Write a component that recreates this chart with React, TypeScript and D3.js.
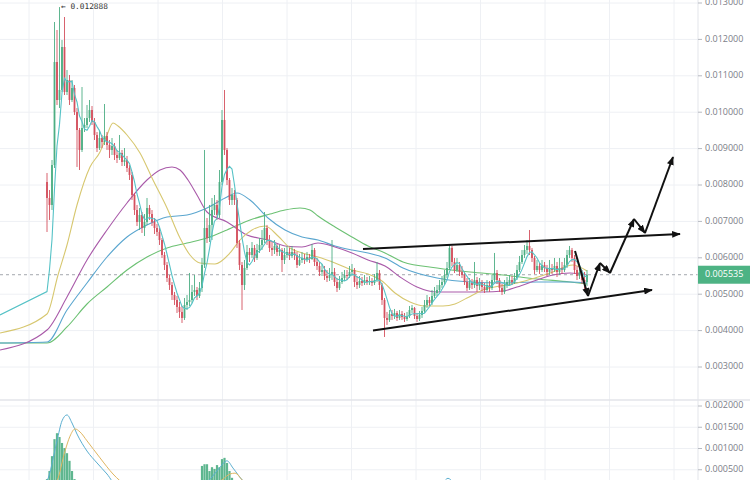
import React from "react";
import * as d3 from "d3";

// All prices are stored in millionths (1 = 0.000001).
const firstOpen = 8082;

const closes = [
  7643, 7451, 8550, 11379, 10335, 10610, 11791, 10555, 10884, 10335,
  10665, 10005, 9511, 8962, 9566, 9648, 9840, 10060, 9731, 9374,
  9016, 9291, 9181, 9346, 9099, 8962, 9071, 8824, 8742, 8879,
  8632, 8687, 8467, 8275, 7725, 7313, 6984, 7176, 6819, 6984,
  7368, 7203, 6984, 6819, 6709, 6489, 6077, 5803, 5445, 5253,
  4978, 4841, 4649, 4512, 4347, 4704, 4786, 4841, 5061, 5116,
  4951, 5171, 5803, 6819, 6544, 6902, 7313, 7451, 7176, 8082,
  9786, 8962, 8137, 7588, 7725, 7588, 6407, 5803, 5253, 5720,
  6160, 6077, 6270, 5995, 6215, 6352, 6489, 6819, 6489, 6270,
  6215, 6325, 6160, 6215, 5940, 6077, 6160, 6050, 6160, 6077,
  5803, 5940, 5995, 5940, 6022, 5967, 6215, 5885, 5775, 5610,
  5665, 5500, 5445, 5528, 5610, 5335, 5171, 5335, 5445, 5528,
  5500, 5610, 5665, 5335, 5253, 5363, 5308, 5390, 5335, 5363,
  5308, 5390, 5583, 5253, 4841, 4347, 4292, 4457, 4402, 4484,
  4347, 4457, 4374, 4319, 4402, 4566, 4621, 4402, 4319, 4429,
  4539, 4704, 4841, 4759, 4951, 5033, 5116, 5253, 5335, 5528,
  5720, 6270, 5885, 5665, 5803, 5610, 5528, 5335, 5171, 5308,
  5253, 5390, 5226, 5308, 5198, 5116, 5253, 5171, 5390, 5583,
  5390, 5171, 5061, 5253, 5335, 5390, 5335, 5445, 5665, 5885,
  6077, 6215, 6325, 6215, 5995, 5665, 5775, 5665, 5803, 5720,
  5610, 5720, 5665, 5775, 5610, 5720, 5665, 5803, 6077, 6215,
  5995, 5665, 5500, 5610, 5390, 5335, 5535,
];

const highs = [
  8330, 7863, 8687, 12478, 12258, 12888, 11983, 12615, 11159, 11022,
  10884, 10747, 10115, 9566, 10692, 9840, 10198, 10335, 10170, 9840,
  9456, 9511, 9374, 10225, 9456, 9236, 9291, 9154, 8962, 9374,
  8962, 9016, 8797, 8550, 8357, 7780, 7451, 7368, 7258, 7203,
  7643, 7451, 7313, 7094, 6929, 6819, 6544, 6160, 5885, 5528,
  5335, 5061, 4951, 4786, 4676, 4896, 4978, 5583, 5253, 5528,
  5198, 5335, 5995, 8962, 7094, 7451, 7643, 7725, 7588, 8412,
  10060, 10610, 9016, 8192, 7917, 7863, 7643, 6489, 5885, 5940,
  6352, 6270, 6434, 6352, 6380, 6544, 6764, 7258, 6902, 6627,
  6434, 6489, 6380, 6352, 6270, 6270, 6325, 6270, 6325, 6242,
  6160, 6105, 6160, 6105, 6160, 6105, 6380, 6270, 5995, 5885,
  5830, 5775, 5665, 5720, 6489, 5720, 5445, 5500, 5610, 5665,
  5665, 5775, 5830, 5720, 5500, 5500, 5473, 5528, 5473, 5500,
  5445, 5555, 5885, 5665, 5308, 4896, 4512, 4566, 4566, 4594,
  4539, 4566, 4539, 4484, 4512, 4676, 4704, 4649, 4484, 4539,
  4649, 4841, 4978, 4923, 5116, 5198, 5253, 5390, 5500, 5665,
  5885, 6352, 6325, 5995, 5995, 5885, 5775, 5610, 5445, 5445,
  5418, 5885, 5473, 5445, 5390, 5308, 5390, 5363, 5528, 6133,
  5665, 5445, 5280, 5390, 5473, 5528, 5500, 5583, 5803, 6050,
  6215, 6352, 6489, 6764, 6270, 6050, 5940, 5858, 5940, 5885,
  5803, 5940, 5830, 5995, 5885, 5995, 5885, 5995, 6215, 6325,
  6270, 6077, 5775, 5720, 5665, 5610, 5665,
];

const lows = [
  6709, 7039, 7313, 8467, 10198, 10115, 10555, 10472, 10472, 10198,
  10280, 9923, 8495, 8412, 8907, 9456, 9566, 9731, 9648, 9236,
  8907, 8962, 9016, 9099, 8962, 8742, 8824, 8687, 8604, 8687,
  8522, 8522, 8357, 8137, 7588, 7176, 6874, 6764, 6682, 6599,
  6902, 7039, 6874, 6654, 6599, 6352, 5995, 5665, 5335, 5116,
  4841, 4704, 4484, 4347, 4210, 4292, 4566, 4676, 4759, 4951,
  4841, 4896, 5061, 5720, 6407, 6434, 6489, 7176, 7039, 7094,
  7999, 8824, 7999, 7451, 7451, 7451, 6270, 5665, 4566, 5116,
  5665, 5885, 5995, 5885, 5940, 6133, 6215, 6407, 6352, 6160,
  6050, 6105, 6050, 6050, 5610, 5830, 5995, 5940, 5995, 5940,
  5720, 5775, 5858, 5830, 5885, 5858, 5940, 5775, 5665, 5500,
  5500, 5390, 5335, 5363, 5390, 5226, 5061, 5116, 5280, 5363,
  5390, 5445, 5500, 5198, 5143, 5171, 5226, 5253, 5253, 5253,
  5226, 5253, 5335, 5116, 4704, 3825, 4155, 4237, 4292, 4319,
  4264, 4292, 4292, 4237, 4264, 4347, 4484, 4319, 4237, 4264,
  4347, 4484, 4621, 4676, 4704, 4896, 4951, 5061, 5171, 5253,
  5445, 5665, 5775, 5583, 5610, 5500, 5445, 5253, 5088, 5116,
  5143, 5171, 5061, 5116, 5088, 5033, 5061, 5061, 5116, 5335,
  5280, 5061, 4978, 5006, 5171, 5253, 5253, 5280, 5390, 5610,
  5830, 5995, 6105, 6077, 5885, 5555, 5610, 5555, 5610, 5610,
  5500, 5528, 5555, 5610, 5473, 5528, 5555, 5610, 5720, 5995,
  5885, 5555, 5390, 5418, 5280, 5116, 5226,
];

// Closes at the listing level before trading opened (feeds the fast average).
const preListingCloses = [4430, 4430, 4430, 4430];
const preListingStartBar = -18.8;
const fastPeriod = 5;

const lastPrice = 5535;
const peakPrice = 12888;
const peakBar = 5;

// Slower moving averages, [bar, price].
const maYellow: [number, number][] = [
  [-18.8, 3934], [0, 4457], [4.4, 5528], [8, 6352], [12, 7451], [17.2, 8495],
  [21.2, 8907], [24, 9374], [26.4, 9703], [28.4, 9621], [32, 9374], [37.2, 8879],
  [42.4, 8137], [48, 7368], [53.2, 6544], [57.2, 6077], [61.2, 5858], [67.2, 5830],
  [73.2, 6133], [77.2, 6489], [82, 6764], [87.2, 6874], [92.4, 6599], [97.2, 6270],
  [102, 6133], [108.4, 6022], [115.2, 5858], [122, 5665], [128.4, 5555], [134, 5363],
  [139.2, 5033], [145.2, 4786], [151.2, 4676], [158.4, 4676], [163.2, 4731], [168, 4896],
  [174.4, 5116], [181.2, 5226], [188, 5308], [195.2, 5445], [201.2, 5583], [210.4, 5803],
  [216, 5638],
];

const maPurple: [number, number][] = [
  [-18.8, 3467], [0, 4017], [8, 4924], [16, 5940], [24, 6764], [32, 7506],
  [40, 8137], [45.2, 8412], [50, 8495], [53.2, 8412], [56.4, 8137], [60, 7725],
  [64, 7258], [72, 6984], [80, 6627], [88.4, 6489], [95.2, 6325], [102, 6297],
  [108.4, 6407], [115.2, 6297], [122, 6133], [128.4, 5940], [135.2, 5775], [141.2, 5473],
  [148, 5198], [156, 5061], [166.4, 5061], [174.4, 5061], [182.4, 5088], [188, 5198],
  [196, 5390], [202.4, 5528], [209.2, 5583], [216, 5528],
];

const maBlue: [number, number][] = [
  [-18.8, 3660], [0, 3687], [8, 4566], [16, 5308], [24, 6022], [32, 6572],
  [40, 6902], [48, 7121], [56, 7176], [64, 7368], [72, 7670], [76, 7780],
  [81.2, 7588], [88.4, 7094], [95.2, 6764], [102, 6572], [108.4, 6489], [115.2, 6325],
  [122, 6215], [128.4, 6133], [135.2, 5995], [142.4, 5720], [156, 5445], [169.2, 5335],
  [182.4, 5308], [196, 5335], [209.2, 5335], [216, 5308],
];

const maGreen: [number, number][] = [
  [-18.8, 3660], [0, 3660], [8, 4100], [16, 4731], [24, 5198], [32, 5665],
  [40, 6022], [48, 6270], [56, 6407], [64, 6544], [72, 6764], [81.2, 7039],
  [89.2, 7203], [95.2, 7313], [101.2, 7368], [105.2, 7313], [108.4, 7148], [115.2, 6846],
  [122, 6572], [128.4, 6325], [135.2, 6133], [142.4, 5885], [156, 5720], [169.2, 5610],
  [182.4, 5528], [196, 5418], [209.2, 5335], [216, 5280],
];

// Lower pane: histogram and its two signal lines, [bar, value].
const oscBars: [number, number][] = [
  [0, 280], [1, 470], [2, 820], [3, 1220], [4, 1360], [5, 1270], [6, 1130],
  [7, 1010], [8, 890], [9, 710], [10, 470], [11, 280],
  [62, 590], [63, 630], [64, 630], [65, 470], [66, 560], [67, 520], [68, 610],
  [69, 560], [70, 750], [71, 780], [72, 660], [73, 470], [74, 310],
];

const oscFast: [number, number][] = [
  [-2.8, 100], [0, 240], [4, 1180], [6, 1650], [8, 1790], [10, 1600], [12, 1340],
  [16, 940], [20, 660], [24, 400], [28, 120], [41.2, 50], [61.2, 80], [66, 330],
  [69.2, 560], [72, 710], [74.4, 540], [78.4, 240], [83.2, 60], [153.2, 60],
  [158.4, 200], [160.4, 300], [162.8, 180], [167.2, 60], [216, 60],
];

const oscSlow: [number, number][] = [
  [1.2, 80], [4, 240], [7.2, 940], [9.2, 1290], [11.2, 1460], [13.2, 1390],
  [16, 1180], [21.2, 780], [26.4, 400], [29.2, 240], [35.2, 60], [65.2, 60],
  [70.4, 280], [73.2, 400], [75.2, 420], [78.4, 240], [83.2, 60], [216, 60],
];

// Drawn pattern: rising channel and projected breakout path, [bar, price].
const channelTop: [number, number][] = [[126.4, 6242], [253.2, 6654]];
const channelBottom: [number, number][] = [[130.4, 4003], [242, 5116]];
const projection: [number, number][] = [
  [211.2, 6187], [216.4, 4951], [221.2, 5858], [225.2, 5583],
  [234.8, 7066], [239.2, 6682], [250.4, 8769],
];

const priceTicks = [13000, 12000, 11000, 10000, 9000, 8000, 7000, 6000, 5000, 4000, 3000];
const oscTicks = [2000, 1500, 1000, 500];
const timeGridBars = [-7.2, 18.6, 44.4, 70.2, 96, 121.8, 147.6, 173.4, 199.2, 225, 250.8];

const UP = "#4dae83";
const DOWN = "#d4505e";
const fmt = (v: number) => (v / 1e6).toFixed(6);

export default function App() {
  const W = 750;
  const H = 480;
  const axisX = 698;
  const paneSplit = 400;

  const x = d3.scaleLinear().domain([0, closes.length - 1]).range([47, 587]);
  const y = d3.scaleLinear().domain([3000, 13000]).range([367, 3]);
  const yOsc = d3.scaleLinear().domain([0, 2000]).range([491, 406]);

  const candles = closes.map((c, i) => {
    const o = i === 0 ? firstOpen : closes[i - 1];
    return {
      i,
      o,
      c,
      h: Math.max(highs[i], o, c),
      l: Math.min(lows[i], o, c),
    };
  });

  // Fast simple moving average over the closes.
  const series = [...preListingCloses, ...closes];
  const fastMa: [number, number][] = [[preListingStartBar, preListingCloses[0]]];
  for (let i = 0; i < closes.length; i++) {
    const end = i + preListingCloses.length;
    const win = series.slice(Math.max(0, end - fastPeriod + 1), end + 1);
    fastMa.push([i, d3.mean(win) as number]);
  }

  const priceLine = d3
    .line<[number, number]>()
    .x((d) => x(d[0]))
    .y((d) => y(d[1]))
    .curve(d3.curveMonotoneX);
  const straightLine = d3
    .line<[number, number]>()
    .x((d) => x(d[0]))
    .y((d) => y(d[1]));
  const oscLine = d3
    .line<[number, number]>()
    .x((d) => x(d[0]))
    .y((d) => yOsc(d[1]))
    .curve(d3.curveMonotoneX);

  const bodyW = 1.8;
  const gridColor = "#eef0f4";
  const labelFont = "'Open Sans', 'DejaVu Sans', sans-serif";

  const segs: [[number, number], [number, number]][] = [];
  for (let k = 1; k < projection.length; k++) segs.push([projection[k - 1], projection[k]]);

  return (
    <svg
      width={W}
      height={H}
      viewBox={`0 0 ${W} ${H}`}
      style={{ position: "absolute", left: 0, top: 0, background: "#fff" }}
    >
      <defs>
        <clipPath id="mainPane">
          <rect x={0} y={0} width={axisX} height={paneSplit} />
        </clipPath>
        <clipPath id="oscPane">
          <rect x={0} y={paneSplit + 1} width={axisX} height={H - paneSplit - 1} />
        </clipPath>
        <marker
          id="head"
          viewBox="0 0 10 8"
          refX={9}
          refY={4}
          markerWidth={9}
          markerHeight={7}
          markerUnits="userSpaceOnUse"
          orient="auto"
        >
          <path d="M0,0 L10,4 L0,8 z" fill="#111" />
        </marker>
      </defs>

      <rect x={0} y={0} width={W} height={H} fill="#fff" />

      {/* grid */}
      {timeGridBars.map((b) => (
        <line key={`v${b}`} x1={x(b)} x2={x(b)} y1={0} y2={H} stroke={gridColor} strokeWidth={1} />
      ))}
      {priceTicks.map((t) => (
        <line key={`h${t}`} x1={0} x2={axisX} y1={y(t)} y2={y(t)} stroke={gridColor} strokeWidth={1} />
      ))}
      {oscTicks.map((t) => (
        <line key={`o${t}`} x1={0} x2={axisX} y1={yOsc(t)} y2={yOsc(t)} stroke={gridColor} strokeWidth={1} />
      ))}
      <line x1={0} x2={W} y1={paneSplit} y2={paneSplit} stroke="#e3e5ea" strokeWidth={1.5} />

      {/* main pane */}
      <g clipPath="url(#mainPane)">
        <line
          x1={0}
          x2={axisX}
          y1={y(lastPrice)}
          y2={y(lastPrice)}
          stroke="#a3a7ae"
          strokeWidth={1}
          strokeDasharray="3 3"
        />
        {[
          { d: maGreen, c: "#6cc173" },
          { d: maBlue, c: "#5aa6cf" },
          { d: maPurple, c: "#a95aa9" },
          { d: maYellow, c: "#d7c76f" },
        ].map((m, k) => (
          <path key={k} d={priceLine(m.d) || ""} fill="none" stroke={m.c} strokeWidth={1.1} />
        ))}

        {candles.map((k) => {
          const col = k.c >= k.o ? UP : DOWN;
          const top = y(Math.max(k.o, k.c));
          const bot = y(Math.min(k.o, k.c));
          return (
            <g key={k.i}>
              <line x1={x(k.i)} x2={x(k.i)} y1={y(k.h)} y2={y(k.l)} stroke={col} strokeWidth={0.9} />
              <rect
                x={x(k.i) - bodyW / 2}
                y={top}
                width={bodyW}
                height={Math.max(1, bot - top)}
                fill={col}
              />
            </g>
          );
        })}

        <path d={straightLine(fastMa) || ""} fill="none" stroke="#55c2c6" strokeWidth={1.1} />

        {/* channel and projected path */}
        <path d={straightLine(channelTop) || ""} stroke="#111" strokeWidth={2} fill="none" markerEnd="url(#head)" />
        <path d={straightLine(channelBottom) || ""} stroke="#111" strokeWidth={2} fill="none" markerEnd="url(#head)" />
        {segs.map((s, k) => (
          <path key={k} d={straightLine(s) || ""} stroke="#111" strokeWidth={2} fill="none" markerEnd="url(#head)" />
        ))}

        <text
          x={x(peakBar) + 1.5}
          y={y(peakPrice)}
          dominantBaseline="middle"
          fontFamily="'DejaVu Sans Mono', monospace"
          fontSize={7.8}
          fill="#333"
        >
          {"\u2190 " + fmt(peakPrice)}
        </text>
      </g>

      {/* lower pane */}
      <g clipPath="url(#oscPane)">
        {oscBars.map(([b, v]) => (
          <rect
            key={b}
            x={x(b) - 1.1}
            y={yOsc(v)}
            width={2.2}
            height={yOsc(0) - yOsc(v)}
            fill={UP}
            opacity={0.9}
          />
        ))}
        <path d={oscLine(oscFast) || ""} fill="none" stroke="#5aaed0" strokeWidth={1} />
        <path d={oscLine(oscSlow) || ""} fill="none" stroke="#e0b661" strokeWidth={1} />
      </g>

      {/* price axis */}
      <line x1={axisX} x2={axisX} y1={0} y2={H} stroke="#e3e5ea" strokeWidth={1} />
      {priceTicks.map((t) => (
        <g key={`pt${t}`}>
          <line x1={axisX} x2={axisX + 4} y1={y(t)} y2={y(t)} stroke="#b7bac1" />
          <text
            x={705}
            y={y(t)}
            dominantBaseline="middle"
            fontFamily={labelFont}
            fontSize={9}
            fill="#7b7e87"
          >
            {fmt(t)}
          </text>
        </g>
      ))}
      {oscTicks.map((t) => (
        <g key={`ot${t}`}>
          <line x1={axisX} x2={axisX + 4} y1={yOsc(t)} y2={yOsc(t)} stroke="#b7bac1" />
          <text
            x={705}
            y={yOsc(t)}
            dominantBaseline="middle"
            fontFamily={labelFont}
            fontSize={9}
            fill="#7b7e87"
          >
            {fmt(t)}
          </text>
        </g>
      ))}
      <rect x={axisX} y={y(lastPrice) - 9} width={W - axisX} height={18} fill="#4db384" />
      <text
        x={705}
        y={y(lastPrice)}
        dominantBaseline="middle"
        fontFamily={labelFont}
        fontSize={9}
        fill="#fff"
      >
        {fmt(lastPrice)}
      </text>
    </svg>
  );
}
